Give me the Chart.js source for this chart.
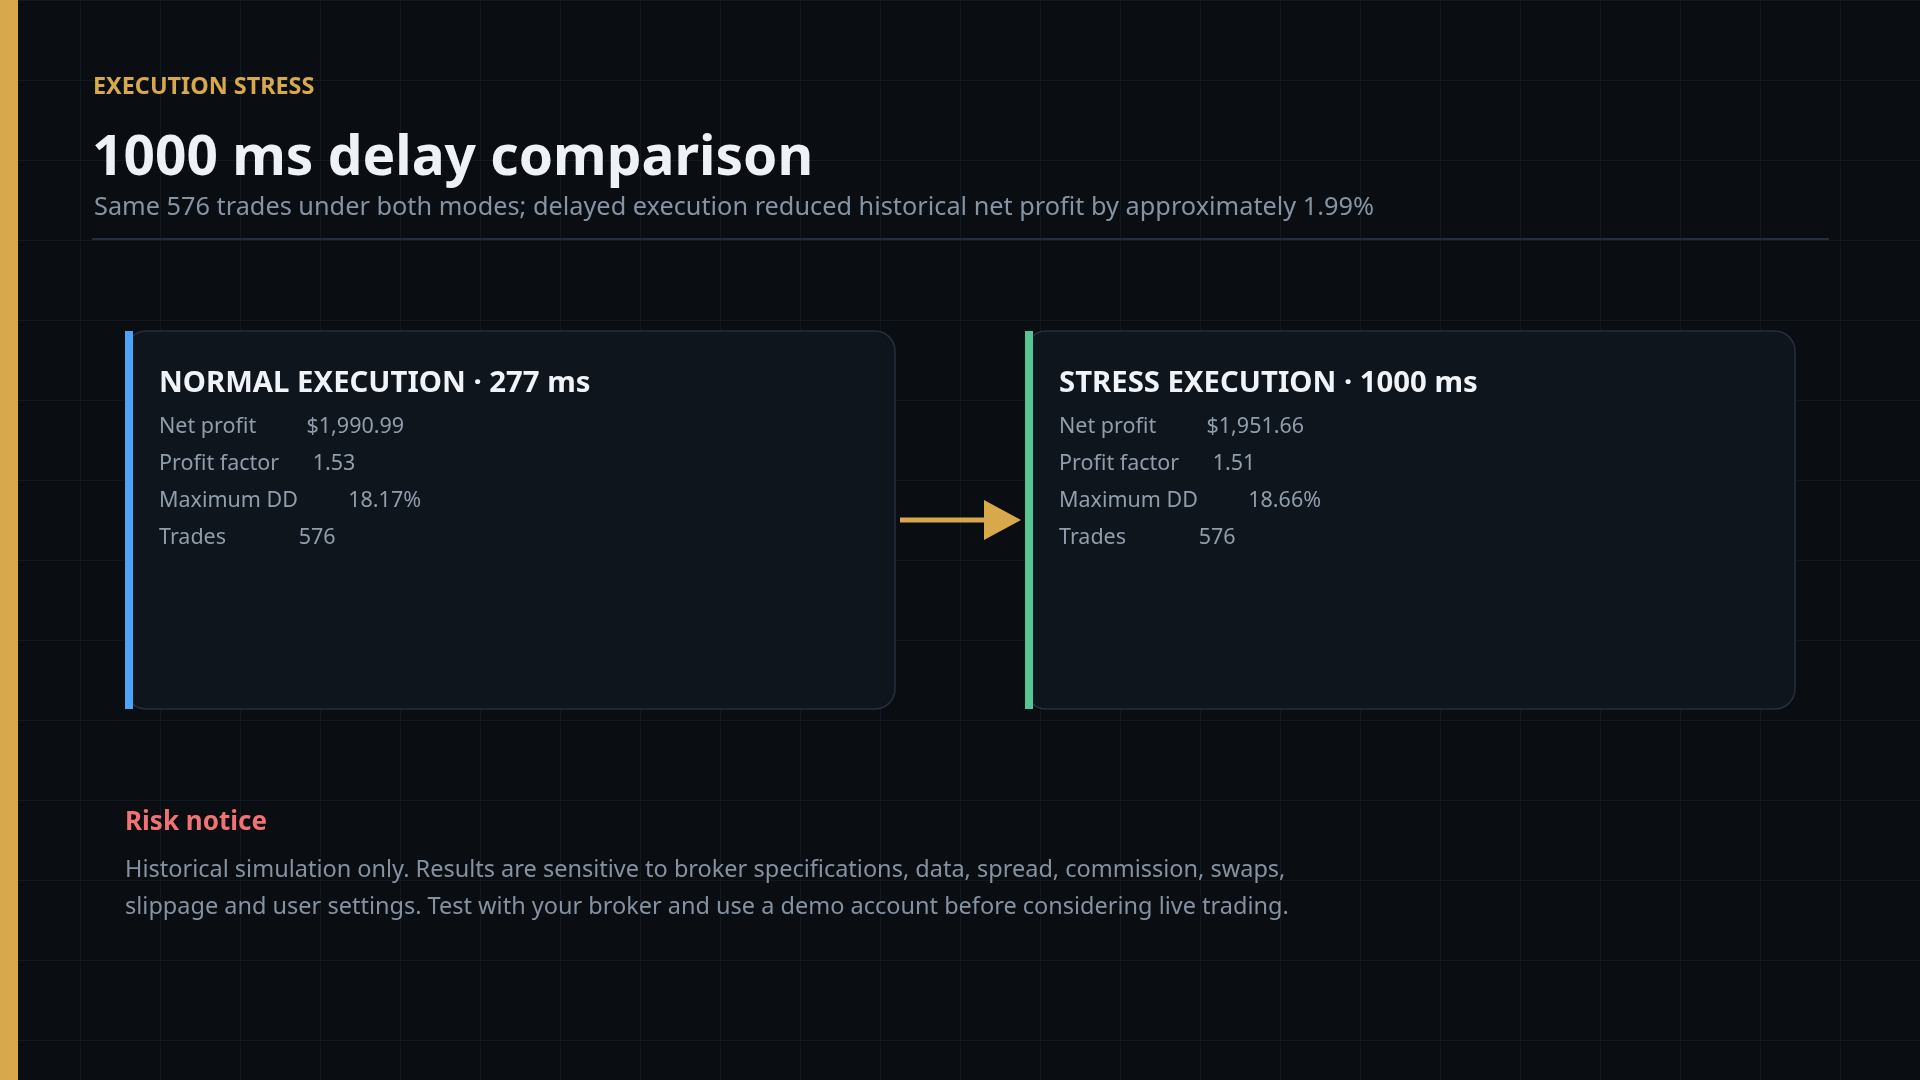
<!DOCTYPE html>
<html>
<head>
<meta charset="utf-8">
<title>1000 ms delay comparison</title>
<script src="https://cdn.jsdelivr.net/npm/chart.js@4.4.1/dist/chart.umd.min.js"></script>
<style>
  html, body { margin: 0; padding: 0; background: #0a0d12; overflow: hidden; }
  #board { display: block; }
</style>
</head>
<body>
<canvas id="board" width="1920" height="1080"></canvas>
<script>
// values
const modes = ['NORMAL EXECUTION', 'STRESS EXECUTION'];
const delaysMs = [277, 1000];
const metricLabels = ['Net profit', 'Profit factor', 'Maximum DD', 'Trades'];
const netProfit = [1990.99, 1951.66];
const profitFactor = [1.53, 1.51];
const maxDrawdownPct = [18.17, 18.66];
const trades = [576, 576];
const accentColors = ['#4ea3f7', '#55c594'];

const kicker = 'EXECUTION STRESS';
const heading = '1000 ms delay comparison';
const subheading = 'Same 576 trades under both modes; delayed execution reduced historical net profit by approximately 1.99%';
const riskTitle = 'Risk notice';
const riskLines = [
  'Historical simulation only. Results are sensitive to broker specifications, data, spread, commission, swaps,',
  'slippage and user settings. Test with your broker and use a demo account before considering live trading.'
];

const FONT = '"Segoe UI", "Noto Sans", sans-serif';

function money(v) {
  return '$' + v.toLocaleString('en-US', { minimumFractionDigits: 2, maximumFractionDigits: 2 });
}

function metricValues(i) {
  return [money(netProfit[i]), profitFactor[i].toFixed(2), maxDrawdownPct[i].toFixed(2) + '%', String(trades[i])];
}

function roundRect(ctx, x, y, w, h, r) {
  ctx.beginPath();
  ctx.moveTo(x + r, y);
  ctx.lineTo(x + w - r, y);
  ctx.arcTo(x + w, y, x + w, y + r, r);
  ctx.lineTo(x + w, y + h - r);
  ctx.arcTo(x + w, y + h, x + w - r, y + h, r);
  ctx.lineTo(x + r, y + h);
  ctx.arcTo(x, y + h, x, y + h - r, r);
  ctx.lineTo(x, y + r);
  ctx.arcTo(x, y, x + r, y, r);
  ctx.closePath();
}

const slidePlugin = {
  id: 'slide',
  afterDraw(chart) {
    const ctx = chart.ctx;
    const sx = chart.scales.x, sy = chart.scales.y;
    const X = v => sx.getPixelForValue(v);
    const Y = v => sy.getPixelForValue(v);
    ctx.save();

    // left gold rail
    ctx.fillStyle = '#d8a94c';
    ctx.fillRect(X(0), Y(0), X(18) - X(0), Y(1080) - Y(0));

    // header
    ctx.textBaseline = 'alphabetic';
    ctx.fillStyle = '#d8a94c';
    ctx.font = 'bold 23.4px ' + FONT;
    ctx.fillText(kicker, X(93), Y(94));

    ctx.fillStyle = '#eef2f6';
    ctx.font = 'bold 55px ' + FONT;
    ctx.fillText(heading, X(92), Y(175));

    ctx.fillStyle = '#8693a3';
    ctx.font = '25.3px ' + FONT;
    ctx.fillText(subheading, X(94), Y(215));

    ctx.fillStyle = '#252e3a';
    ctx.fillRect(X(92), Y(238), X(1829) - X(92), 2);

    // cards
    const cardLeft = [125, 1025];
    const cardW = 770, cardTop = 331, cardBottom = 709;
    modes.forEach((mode, i) => {
      const x0 = X(cardLeft[i]), x1 = X(cardLeft[i] + cardW);
      const y0 = Y(cardTop), y1 = Y(cardBottom);
      roundRect(ctx, x0 + 1, y0, x1 - x0 - 1, y1 - y0, 20);
      ctx.fillStyle = '#0f151d';
      ctx.fill();
      ctx.lineWidth = 1.5;
      ctx.strokeStyle = '#262f3c';
      ctx.stroke();
      ctx.fillStyle = accentColors[i];
      ctx.fillRect(x0, y0, 8, y1 - y0);

      const tx = x0 + 34;
      ctx.fillStyle = '#f0f3f7';
      ctx.font = 'bold 29.3px ' + FONT;
      ctx.fillText(mode + ' \u00b7 ' + delaysMs[i] + ' ms', tx, Y(392));

      ctx.fillStyle = '#919dab';
      ctx.font = '21.5px ' + FONT;
      const vals = metricValues(i);
      metricLabels.forEach((lab, r) => {
        ctx.fillText(lab.padEnd(19, ' ') + vals[r], tx, Y(433 + r * 37));
      });
    });

    // arrow between the cards
    const ay = Y(520);
    ctx.fillStyle = '#d8a94c';
    ctx.fillRect(X(900), ay - 2.5, X(990) - X(900), 5);
    ctx.beginPath();
    ctx.moveTo(X(984), ay - 20);
    ctx.lineTo(X(1021), ay);
    ctx.lineTo(X(984), ay + 20);
    ctx.closePath();
    ctx.fill();

    // risk notice
    ctx.fillStyle = '#f07373';
    ctx.font = 'bold 26px ' + FONT;
    ctx.fillText(riskTitle, X(125), Y(830));
    ctx.fillStyle = '#8692a2';
    ctx.font = '23.5px ' + FONT;
    riskLines.forEach((line, k) => ctx.fillText(line, X(125), Y(877 + k * 37)));

    ctx.restore();
  }
};

new Chart(document.getElementById('board').getContext('2d'), {
  type: 'scatter',
  data: { datasets: [{ data: [], pointRadius: 0 }] },
  options: {
    responsive: false,
    animation: false,
    devicePixelRatio: 1,
    layout: { padding: 0 },
    plugins: { legend: { display: false }, tooltip: { enabled: false }, title: { display: false } },
    scales: {
      x: {
        type: 'linear', min: 0, max: 1920,
        ticks: { display: false, stepSize: 80 },
        grid: { color: '#111820', lineWidth: 1, drawTicks: false },
        border: { display: false }
      },
      y: {
        type: 'linear', min: 0, max: 1080, reverse: true,
        ticks: { display: false, stepSize: 80 },
        grid: { color: '#111820', lineWidth: 1, drawTicks: false },
        border: { display: false }
      }
    }
  },
  plugins: [slidePlugin]
});
</script>
</body>
</html>
